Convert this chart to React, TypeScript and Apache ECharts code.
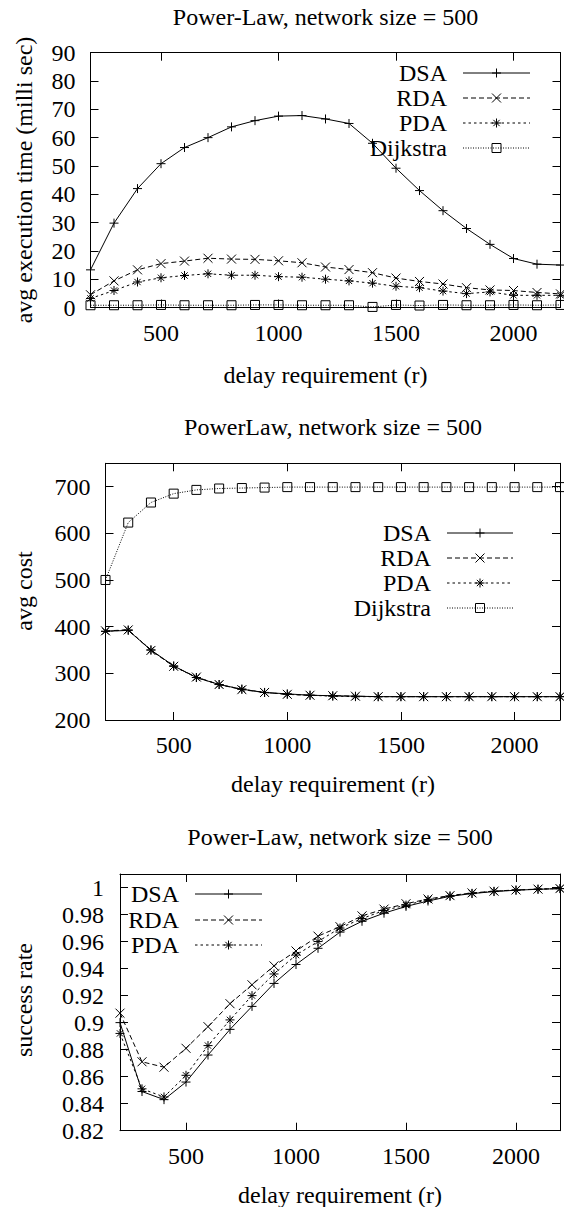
import React, { useEffect, useRef } from "react";
import * as echarts from "echarts";

const delays = [200, 300, 400, 500, 600, 700, 800, 900, 1000, 1100, 1200, 1300, 1400, 1500, 1600, 1700, 1800, 1900, 2000, 2100, 2200];
const xTicks = [500, 1000, 1500, 2000];
const execTicks = [0, 10, 20, 30, 40, 50, 60, 70, 80, 90];
const costTicks = [200, 300, 400, 500, 600, 700];
const rateTicks = [0.82, 0.84, 0.86, 0.88, 0.9, 0.92, 0.94, 0.96, 0.98, 1];

const execDSA = [13.3, 29.8, 42.0, 50.8, 56.5, 60.0, 63.8, 66.0, 67.6, 67.8, 66.6, 65.0, 58.0, 49.2, 41.3, 34.2, 27.9, 22.3, 17.3, 15.3, 15.0];
const execRDA = [4.5, 9.4, 13.3, 15.5, 16.4, 17.4, 17.1, 17.0, 16.5, 15.8, 14.3, 13.4, 12.3, 10.4, 9.2, 8.3, 7.0, 6.2, 6.0, 5.3, 4.8];
const execPDA = [3.2, 6.0, 9.0, 10.5, 11.3, 11.9, 11.4, 11.4, 10.9, 10.7, 10.0, 9.4, 8.6, 7.5, 7.0, 5.8, 4.9, 5.5, 4.3, 4.3, 4.3];
const execDijkstra = [0.8, 0.8, 0.8, 0.9, 0.8, 0.8, 0.8, 0.9, 0.9, 0.8, 0.8, 0.8, 0.2, 0.9, 0.7, 0.9, 0.8, 0.8, 0.9, 0.8, 0.9];

const costDSA = [390, 392, 350, 316, 291, 276, 266, 259, 256, 253, 252, 251, 250, 250, 250, 250, 250, 250, 250, 250, 250];
const costRDA = [391, 393, 349, 315, 292, 276, 265, 259, 255, 253, 252, 251, 250, 250, 250, 250, 250, 250, 250, 250, 250];
const costPDA = [390, 393, 350, 315, 291, 276, 266, 259, 255, 253, 251, 250, 250, 250, 250, 250, 250, 250, 250, 250, 250];
const costDijkstra = [500, 623, 666, 685, 693, 696, 697, 698, 699, 699, 699, 699, 699, 699, 699, 699, 699, 699, 699, 699, 699];

const rateDSA = [0.900, 0.849, 0.843, 0.856, 0.876, 0.895, 0.912, 0.929, 0.943, 0.955, 0.967, 0.975, 0.981, 0.986, 0.990, 0.9935, 0.9955, 0.997, 0.998, 0.9987, 0.9992];
const rateRDA = [0.907, 0.871, 0.867, 0.881, 0.897, 0.914, 0.928, 0.942, 0.953, 0.964, 0.971, 0.979, 0.984, 0.988, 0.9915, 0.994, 0.996, 0.9973, 0.9982, 0.9988, 0.9992];
const ratePDA = [0.892, 0.851, 0.845, 0.861, 0.883, 0.902, 0.920, 0.936, 0.950, 0.960, 0.970, 0.977, 0.983, 0.987, 0.991, 0.9938, 0.9957, 0.9972, 0.9981, 0.9988, 0.9992];

const FONT = "Liberation Serif";
const FS = 24;

const SYM = {
  plus: "path://M0,5L10,5M5,0L5,10",
  cross: "path://M0,0L10,10M10,0L0,10",
  star: "path://M0,5L10,5M5,0L5,10M1.5,1.5L8.5,8.5M8.5,1.5L1.5,8.5",
  square: "path://M0,0L10,0L10,10L0,10Z",
};
const STYLES = {
  DSA: { sym: "plus", dash: "solid" as any },
  RDA: { sym: "cross", dash: [5, 3] as any },
  PDA: { sym: "star", dash: [2.5, 3] as any },
  Dijkstra: { sym: "square", dash: [1, 1.5] as any },
};

const grids = [
  { left: 90.5, top: 52.7, width: 470, height: 254.8 },
  { left: 105.5, top: 463.3, width: 454.5, height: 256.7 },
  { left: 120, top: 874, width: 440, height: 256.7 },
];

const plainFmt = (v: number) => String(v);

function xAxesFor(gi: number) {
  const base = {
    type: "value",
    gridIndex: gi,
    min: 200,
    max: 2200,
    splitLine: { show: false },
    axisLine: { show: true, onZero: false, lineStyle: { color: "#000", width: 1 } },
    axisTick: { show: true, inside: true, length: 8, customValues: xTicks, lineStyle: { color: "#000" } },
  };
  return [
    {
      ...base,
      position: "bottom",
      axisLabel: { customValues: xTicks, margin: 13, fontSize: FS, fontFamily: FONT, color: "#000", formatter: plainFmt },
    },
    { ...base, position: "top", axisLabel: { show: false } },
  ];
}

function yAxesFor(gi: number, min: number, max: number, ticks: number[], margin: number, fmt: (v: number) => string) {
  const base = {
    type: "value",
    gridIndex: gi,
    min,
    max,
    splitLine: { show: false },
    axisLine: { show: true, onZero: false, lineStyle: { color: "#000", width: 1 } },
    axisTick: { show: true, inside: true, length: 8, customValues: ticks, lineStyle: { color: "#000" } },
  };
  return [
    {
      ...base,
      position: "left",
      axisLabel: { customValues: ticks, margin, fontSize: FS, fontFamily: FONT, color: "#000", formatter: fmt },
    },
    { ...base, position: "right", axisLabel: { show: false } },
  ];
}

function series(gi: number, name: keyof typeof STYLES, vals: number[]) {
  const st = STYLES[name];
  return {
    type: "line",
    name,
    xAxisIndex: gi * 2,
    yAxisIndex: gi * 2,
    data: delays.map((x, i) => [x, vals[i]]),
    symbol: (SYM as any)[st.sym],
    symbolSize: 9,
    showSymbol: true,
    silent: true,
    lineStyle: { color: "#000", width: 1, type: st.dash },
    itemStyle: { color: "rgba(0,0,0,0)", borderColor: "#000", borderWidth: 1 },
    emphasis: { disabled: true },
  };
}

function text(t: string, x: number, y: number, align: string, rotation = 0) {
  return {
    type: "text",
    x,
    y,
    rotation,
    silent: true,
    style: { text: t, fontSize: FS, fontFamily: FONT, fill: "#000", textAlign: align, textVerticalAlign: "middle" },
  };
}

function markerEls(kind: string, cx: number, cy: number, s: number) {
  const h = s / 2;
  const ln = (x1: number, y1: number, x2: number, y2: number) => ({
    type: "line",
    silent: true,
    shape: { x1, y1, x2, y2 },
    style: { stroke: "#000", lineWidth: 1 },
  });
  const d = h * 0.7;
  if (kind === "plus") return [ln(cx - h, cy, cx + h, cy), ln(cx, cy - h, cx, cy + h)];
  if (kind === "cross") return [ln(cx - h, cy - h, cx + h, cy + h), ln(cx + h, cy - h, cx - h, cy + h)];
  if (kind === "star")
    return [ln(cx - h, cy, cx + h, cy), ln(cx, cy - h, cx, cy + h), ln(cx - d, cy - d, cx + d, cy + d), ln(cx + d, cy - d, cx - d, cy + d)];
  return [
    {
      type: "rect",
      silent: true,
      shape: { x: cx - h, y: cy - h, width: s, height: s },
      style: { fill: "none", stroke: "#000", lineWidth: 1 },
    },
  ];
}

function legendEls(names: (keyof typeof STYLES)[], textRight: number, ys: number[], lineX1: number, lineX2: number) {
  const out: any[] = [];
  names.forEach((n, i) => {
    const y = ys[i];
    const st = STYLES[n];
    out.push(text(n, textRight, y, "right"));
    out.push({
      type: "line",
      silent: true,
      shape: { x1: lineX1, y1: y, x2: lineX2, y2: y },
      style: { stroke: "#000", lineWidth: 1, lineDash: Array.isArray(st.dash) ? st.dash : null },
    });
    out.push(...markerEls(st.sym, (lineX1 + lineX2) / 2, y, 9));
  });
  return out;
}

export default function App() {
  const ref = useRef<HTMLDivElement>(null);
  useEffect(() => {
    if (!ref.current) return;
    const chart = echarts.init(ref.current, null, { renderer: "svg" });
    const rateFmt = (v: number) => String(parseFloat(Number(v).toFixed(2)));
    const option: any = {
      animation: false,
      backgroundColor: "#fff",
      grid: grids.map((g) => ({ ...g, show: false, containLabel: false })),
      xAxis: [...xAxesFor(0), ...xAxesFor(1), ...xAxesFor(2)],
      yAxis: [
        ...yAxesFor(0, 0, 90, execTicks, 15, plainFmt),
        ...yAxesFor(1, 200, 750, costTicks, 15, plainFmt),
        ...yAxesFor(2, 0.82, 1.01, rateTicks, 16, rateFmt),
      ],
      series: [
        series(0, "DSA", execDSA),
        series(0, "RDA", execRDA),
        series(0, "PDA", execPDA),
        series(0, "Dijkstra", execDijkstra),
        series(1, "DSA", costDSA),
        series(1, "RDA", costRDA),
        series(1, "PDA", costPDA),
        series(1, "Dijkstra", costDijkstra),
        series(2, "DSA", rateDSA),
        series(2, "RDA", rateRDA),
        series(2, "PDA", ratePDA),
      ],
      graphic: {
        elements: [
          text("Power-Law, network size = 500", 325.5, 17, "center"),
          text("PowerLaw, network size = 500", 333, 427, "center"),
          text("Power-Law, network size = 500", 340, 837, "center"),
          text("delay requirement (r)", 325.5, 375, "center"),
          text("delay requirement (r)", 333, 784, "center"),
          text("delay requirement (r)", 340, 1195, "center"),
          text("avg execution time (milli sec)", 24, 180, "center", Math.PI / 2),
          text("avg cost", 24, 591, "center", Math.PI / 2),
          text("success rate", 24, 1000, "center", Math.PI / 2),
          ...legendEls(["DSA", "RDA", "PDA", "Dijkstra"], 447, [73, 98, 123, 148], 463, 530),
          ...legendEls(["DSA", "RDA", "PDA", "Dijkstra"], 431, [533, 558, 583, 608], 447, 513),
          ...legendEls(["DSA", "RDA", "PDA"], 179, [894, 920, 945], 195, 262),
        ],
      },
    };
    chart.setOption(option);
    return () => chart.dispose();
  }, []);
  return <div ref={ref} style={{ position: "absolute", left: 0, top: 0, width: 564, height: 1207 }} />;
}
